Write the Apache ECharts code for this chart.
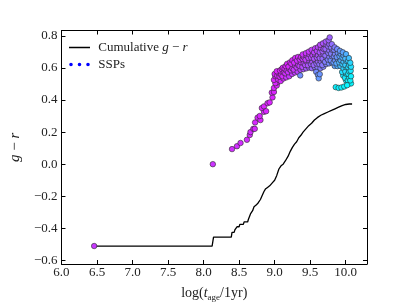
<!DOCTYPE html>
<html>
<head>
<meta charset="utf-8">
<script src="https://cdn.jsdelivr.net/npm/echarts@6/dist/echarts.min.js"></script>
<style>html,body{margin:0;padding:0;background:#fff;}#c{width:407px;height:307px;}</style>
</head>
<body>
<div id="c"></div>
<script>
const xTicks = [6.0, 6.5, 7.0, 7.5, 8.0, 8.5, 9.0, 9.5, 10.0];
const yTicks = [-0.6, -0.4, -0.2, 0.0, 0.2, 0.4, 0.6, 0.8];

const cumX = [6.46, 8.12, 8.14, 8.39, 8.40, 8.43, 8.44, 8.46, 8.47, 8.50, 8.51, 8.56, 8.57, 8.62, 8.63, 8.65, 8.66, 8.69, 8.71, 8.74, 8.77, 8.80, 8.82, 8.85, 8.87, 8.90, 8.93, 8.97, 9.00, 9.03, 9.06, 9.09, 9.12, 9.15, 9.19, 9.22, 9.25, 9.28, 9.31, 9.34, 9.37, 9.40, 9.44, 9.48, 9.52, 9.56, 9.60, 9.65, 9.70, 9.75, 9.80, 9.85, 9.90, 9.95, 10.00, 10.05, 10.09];
const cumY = [-0.51, -0.51, -0.455, -0.455, -0.425, -0.425, -0.41, -0.41, -0.39, -0.39, -0.375, -0.375, -0.36, -0.36, -0.345, -0.34, -0.31, -0.29, -0.265, -0.255, -0.24, -0.22, -0.20, -0.17, -0.155, -0.145, -0.135, -0.115, -0.10, -0.07, -0.03, -0.01, 0.0, 0.02, 0.05, 0.08, 0.105, 0.125, 0.14, 0.165, 0.18, 0.20, 0.22, 0.24, 0.255, 0.275, 0.29, 0.305, 0.315, 0.325, 0.335, 0.345, 0.355, 0.365, 0.372, 0.375, 0.375];

// [log age, g-r, colour value (0 = cyan, 1 = magenta)]
const sspPoints = [
  [6.46, -0.51, 0.78], [8.13, 0.0, 0.8],
  [8.40, 0.094, 0.82], [8.47, 0.112, 0.82], [8.52, 0.132, 0.82], [8.61, 0.152, 0.83], [8.65, 0.182, 0.83],
  [8.66, 0.20, 0.83], [8.70, 0.22, 0.84], [8.72, 0.22, 0.84], [8.725, 0.26, 0.84], [8.76, 0.29, 0.85],
  [8.80, 0.275, 0.85], [8.79, 0.30, 0.85], [8.85, 0.326, 0.85], [8.82, 0.35, 0.86], [8.85, 0.36, 0.86],
  [8.88, 0.33, 0.85], [8.90, 0.38, 0.86], [8.93, 0.385, 0.86], [8.97, 0.416, 0.86], [8.96, 0.446, 0.86],
  [8.99, 0.45, 0.86], [8.99, 0.475, 0.86], [9.03, 0.49, 0.86], [9.04, 0.51, 0.86], [9.02, 0.535, 0.86],
  [9.01, 0.505, 0.86], [8.99, 0.525, 0.86], [9.01, 0.548, 0.86], [9.00, 0.562, 0.86],
  [9.05, 0.527, 0.86], [9.035, 0.552, 0.86], [9.055, 0.566, 0.87], [9.03, 0.579, 0.87],
  [9.085, 0.518, 0.84], [9.07, 0.545, 0.85], [9.09, 0.557, 0.86], [9.075, 0.584, 0.87], [9.10, 0.592, 0.87],
  [9.125, 0.534, 0.83], [9.11, 0.548, 0.84], [9.13, 0.571, 0.85], [9.115, 0.601, 0.86], [9.14, 0.595, 0.87],
  [9.165, 0.541, 0.8], [9.15, 0.566, 0.82], [9.17, 0.583, 0.84], [9.155, 0.611, 0.86], [9.175, 0.625, 0.87],
  [9.205, 0.548, 0.79], [9.19, 0.573, 0.81], [9.21, 0.592, 0.83], [9.195, 0.608, 0.85], [9.215, 0.634, 0.87],
  [9.245, 0.562, 0.77], [9.23, 0.584, 0.8], [9.25, 0.597, 0.82], [9.235, 0.626, 0.84], [9.25, 0.648, 0.86],
  [9.285, 0.571, 0.76], [9.27, 0.589, 0.79], [9.29, 0.614, 0.81], [9.275, 0.633, 0.83], [9.29, 0.662, 0.85],
  [9.325, 0.576, 0.75], [9.31, 0.603, 0.78], [9.33, 0.618, 0.8], [9.315, 0.645, 0.82], [9.33, 0.668, 0.84],
  [9.365, 0.588, 0.73], [9.35, 0.612, 0.76], [9.37, 0.634, 0.79], [9.355, 0.652, 0.81], [9.37, 0.667, 0.83],
  [9.36, 0.553, 0.45],
  [9.405, 0.592, 0.68], [9.39, 0.606, 0.72], [9.41, 0.628, 0.75], [9.395, 0.655, 0.78], [9.41, 0.668, 0.8], [9.395, 0.684, 0.81],
  [9.445, 0.597, 0.66], [9.43, 0.618, 0.7], [9.45, 0.639, 0.73], [9.435, 0.651, 0.76], [9.45, 0.677, 0.78], [9.44, 0.692, 0.8],
  [9.485, 0.602, 0.64], [9.47, 0.616, 0.68], [9.49, 0.643, 0.71], [9.475, 0.662, 0.74], [9.49, 0.684, 0.77], [9.48, 0.701, 0.79],
  [9.525, 0.598, 0.6], [9.51, 0.624, 0.64], [9.53, 0.637, 0.68], [9.515, 0.664, 0.71], [9.535, 0.678, 0.74], [9.52, 0.712, 0.77],
  [9.565, 0.604, 0.57], [9.55, 0.618, 0.61], [9.57, 0.646, 0.65], [9.555, 0.657, 0.68], [9.57, 0.683, 0.71], [9.555, 0.697, 0.74], [9.57, 0.722, 0.76],
  [9.605, 0.603, 0.55], [9.59, 0.627, 0.59], [9.61, 0.638, 0.63], [9.595, 0.664, 0.66], [9.61, 0.679, 0.69], [9.595, 0.705, 0.72], [9.61, 0.729, 0.74],
  [9.585, 0.575, 0.45], [9.61, 0.556, 0.42], [9.62, 0.535, 0.4], [9.635, 0.561, 0.42],
  [9.645, 0.598, 0.52], [9.63, 0.623, 0.56], [9.65, 0.642, 0.6], [9.635, 0.661, 0.63], [9.65, 0.684, 0.66], [9.635, 0.697, 0.68], [9.65, 0.724, 0.7], [9.64, 0.744, 0.72],
  [9.685, 0.607, 0.5], [9.67, 0.618, 0.53], [9.69, 0.645, 0.56], [9.675, 0.658, 0.59], [9.69, 0.684, 0.62], [9.675, 0.703, 0.64], [9.69, 0.718, 0.66], [9.68, 0.753, 0.68],
  [9.725, 0.624, 0.48], [9.71, 0.638, 0.51], [9.73, 0.663, 0.54], [9.715, 0.677, 0.57], [9.73, 0.704, 0.6], [9.715, 0.718, 0.62], [9.73, 0.743, 0.64], [9.72, 0.764, 0.66],
  [9.765, 0.628, 0.46], [9.75, 0.652, 0.49], [9.77, 0.668, 0.52], [9.755, 0.693, 0.55], [9.77, 0.708, 0.57], [9.755, 0.734, 0.59], [9.77, 0.748, 0.61], [9.76, 0.772, 0.62],
  [9.775, 0.79, 0.62],
  [9.805, 0.633, 0.42], [9.79, 0.647, 0.45], [9.81, 0.672, 0.48], [9.795, 0.688, 0.51], [9.81, 0.713, 0.53], [9.795, 0.727, 0.55], [9.805, 0.748, 0.57],
  [9.845, 0.612, 0.37], [9.83, 0.634, 0.4], [9.85, 0.648, 0.43], [9.835, 0.673, 0.46], [9.85, 0.687, 0.48], [9.835, 0.713, 0.5], [9.845, 0.728, 0.52],
  [9.885, 0.611, 0.32], [9.87, 0.628, 0.35], [9.89, 0.654, 0.38], [9.875, 0.668, 0.41], [9.89, 0.693, 0.43], [9.88, 0.717, 0.45],
  [9.925, 0.612, 0.27], [9.91, 0.634, 0.3], [9.93, 0.647, 0.33], [9.915, 0.673, 0.36], [9.93, 0.688, 0.38], [9.92, 0.706, 0.4],
  [9.965, 0.552, 0.1], [9.95, 0.574, 0.13], [9.97, 0.597, 0.18], [9.955, 0.623, 0.22], [9.97, 0.638, 0.27], [9.955, 0.664, 0.31], [9.97, 0.678, 0.34], [9.96, 0.697, 0.36],
  [10.005, 0.522, 0.06], [9.99, 0.538, 0.08], [10.01, 0.563, 0.1], [9.995, 0.577, 0.13], [10.01, 0.604, 0.16], [9.995, 0.618, 0.2], [10.01, 0.643, 0.24], [9.995, 0.658, 0.28], [10.005, 0.686, 0.31],
  [10.045, 0.502, 0.04], [10.03, 0.523, 0.05], [10.05, 0.538, 0.06], [10.035, 0.563, 0.08], [10.05, 0.578, 0.1], [10.035, 0.604, 0.13], [10.05, 0.617, 0.17], [10.035, 0.644, 0.21], [10.045, 0.661, 0.25],
  [10.075, 0.503, 0.03], [10.065, 0.522, 0.04], [10.075, 0.548, 0.06], [10.07, 0.582, 0.09], [10.075, 0.607, 0.12], [10.065, 0.632, 0.16],
  [9.86, 0.48, 0.05], [9.90, 0.475, 0.05], [9.94, 0.478, 0.05], [9.98, 0.484, 0.04], [10.02, 0.492, 0.04]
];

const FONT = 'Liberation Serif';
const TXT = '#222';
const fmt = v => (v < -1e-9 ? '\u2212' : '') + Math.abs(v).toFixed(1);

const chart = echarts.init(document.getElementById('c'), null, {renderer: 'canvas'});
const cumData = cumX.map((x, i) => [x, cumY[i]]);
const dotsIcon = 'path://M0.2,2a1.8,1.8 0 1,0 3.6,0a1.8,1.8 0 1,0 -3.6,0ZM8.7,2a1.8,1.8 0 1,0 3.6,0a1.8,1.8 0 1,0 -3.6,0ZM17.2,2a1.8,1.8 0 1,0 3.6,0a1.8,1.8 0 1,0 -3.6,0ZM0,0L0.01,0L0.01,0.01ZM21,4L21.01,4L21.01,3.99Z';
const lineIcon = 'path://M0,0L0.01,0L0.01,0.01ZM0,1.3L21,1.3L21,2.7L0,2.7ZM21,4L21.01,4L21.01,3.99Z';

const frameTick = {show: true, inside: true, length: 4, lineStyle: {color: '#000', width: 1}};
chart.setOption({
  animation: false,
  backgroundColor: '#fff',
  grid: {left: 51, right: 40, top: 30.5, bottom: 34},
  legend: {
    orient: 'vertical', left: 64, top: 36, itemWidth: 21, itemHeight: 4, itemGap: 4,
    textStyle: {fontFamily: FONT, fontSize: 13, color: TXT,
      rich: {n: {fontFamily: FONT, fontSize: 13, color: TXT}, i: {fontFamily: FONT, fontSize: 13, fontStyle: 'italic', color: TXT}}},
    formatter: n => n === 'Cumulative' ? '{n| Cumulative }{i|g} {n|\u2212} {i|r}' : '{n| ' + n + '}',
    data: [
      {name: 'Cumulative', icon: lineIcon, itemStyle: {color: '#000', borderWidth: 0}},
      {name: 'SSPs', icon: dotsIcon, itemStyle: {color: '#0000ff', borderWidth: 0}}
    ]
  },
  visualMap: {show: false, type: 'continuous', seriesIndex: 1, dimension: 2, min: 0, max: 1, inRange: {color: ['#00ffff', '#ff00ff']}},
  xAxis: [
    {type: 'value', min: 6, max: 10.3, position: 'bottom',
      axisLine: {show: true, onZero: false, lineStyle: {color: '#000', width: 1}},
      axisTick: Object.assign({customValues: xTicks}, frameTick),
      axisLabel: {customValues: xTicks, formatter: fmt, fontFamily: FONT, fontSize: 13, color: TXT, margin: 2},
      splitLine: {show: false},
      name: '{a|log(}{i|t}{s|age}{a|/1yr)}', nameLocation: 'middle', nameGap: 21,
      nameTextStyle: {fontFamily: FONT, fontSize: 14, color: TXT,
        rich: {a: {fontFamily: FONT, fontSize: 14, color: TXT}, i: {fontFamily: FONT, fontSize: 14, fontStyle: 'italic', color: TXT},
               s: {fontFamily: FONT, fontSize: 9, color: TXT, padding: [8, 0, 0, 0]}}}},
    {type: 'value', min: 6, max: 10.3, position: 'top',
      axisLine: {show: true, onZero: false, lineStyle: {color: '#000', width: 1}},
      axisTick: Object.assign({customValues: xTicks}, frameTick),
      axisLabel: {show: false}, splitLine: {show: false}}
  ],
  yAxis: [
    {type: 'value', min: -0.622, max: 0.833, position: 'left',
      axisLine: {show: true, onZero: false, lineStyle: {color: '#000', width: 1}},
      axisTick: Object.assign({customValues: yTicks}, frameTick),
      axisLabel: {customValues: yTicks, formatter: fmt, fontFamily: FONT, fontSize: 13, color: TXT, margin: 4},
      splitLine: {show: false},
      name: '{i|g} {a|\u2212} {i|r}', nameLocation: 'middle', nameGap: 37,
      nameTextStyle: {fontFamily: FONT, fontSize: 15, color: TXT,
        rich: {a: {fontFamily: FONT, fontSize: 15, color: TXT}, i: {fontFamily: FONT, fontSize: 15, fontStyle: 'italic', color: TXT}}}},
    {type: 'value', min: -0.622, max: 0.833, position: 'right',
      axisLine: {show: true, onZero: false, lineStyle: {color: '#000', width: 1}},
      axisTick: Object.assign({customValues: yTicks}, frameTick),
      axisLabel: {show: false}, splitLine: {show: false}}
  ],
  series: [
    {name: 'Cumulative', type: 'line', data: cumData, showSymbol: false, symbol: 'none',
      lineStyle: {color: '#000', width: 1.3}, itemStyle: {color: '#000'}, z: 2},
    {name: 'SSPs', type: 'scatter', data: sspPoints, symbolSize: 5.5,
      itemStyle: {borderColor: '#2a2a2a', borderWidth: 0.6, opacity: 1}, z: 3}
  ]
});
</script>
</body>
</html>
